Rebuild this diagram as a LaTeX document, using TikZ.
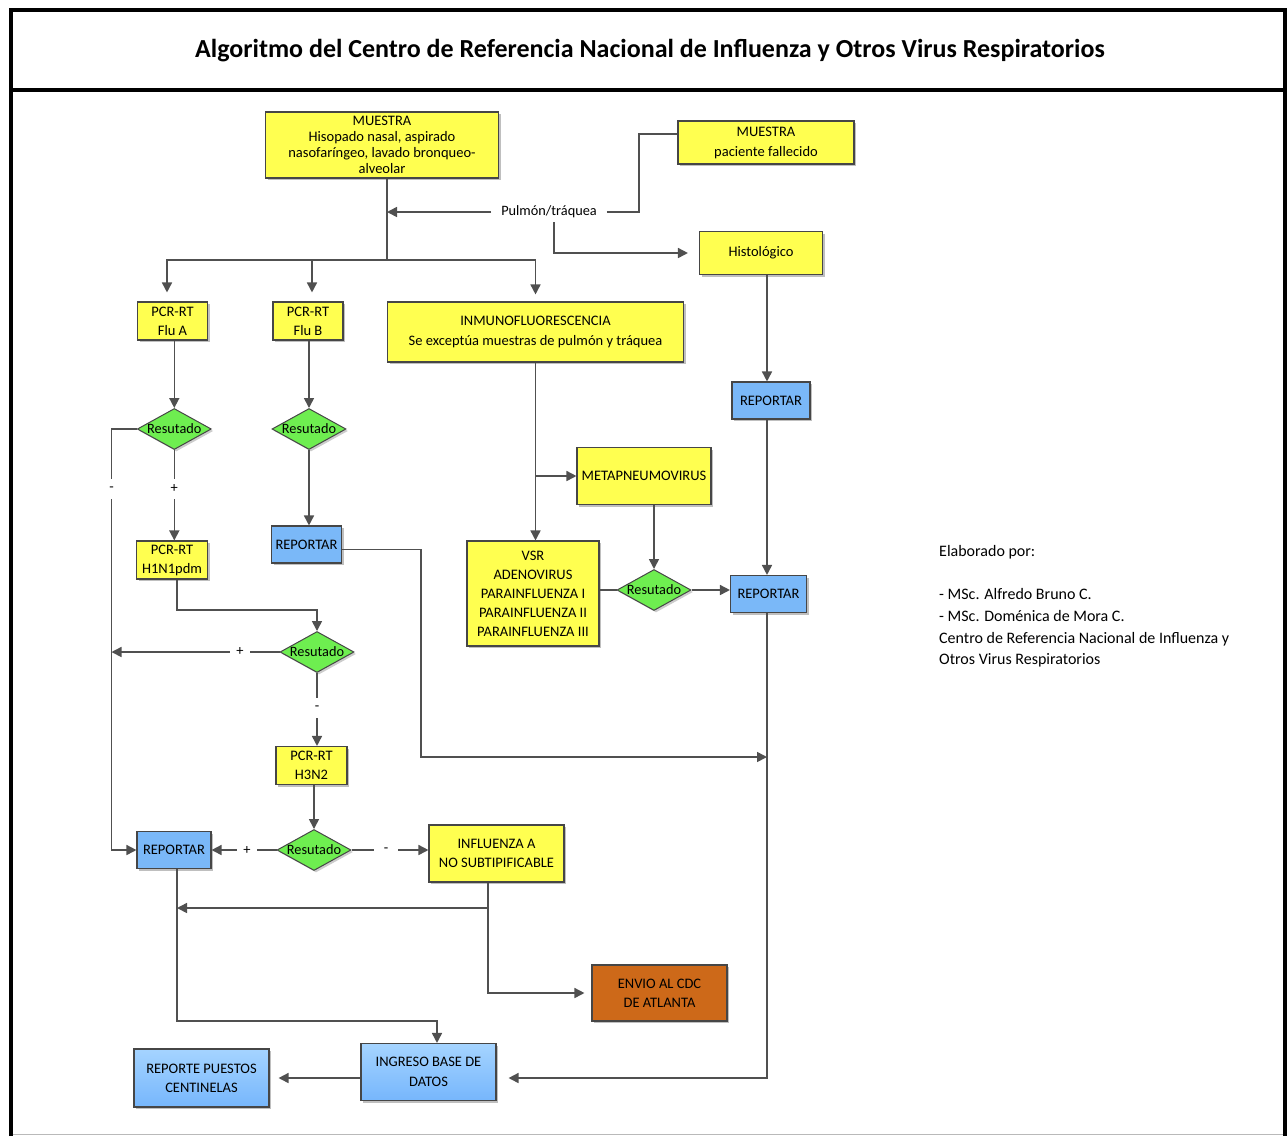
\documentclass[tikz,border=0pt]{standalone}
\usepackage{fontspec}
\setmainfont{Carlito}
\usetikzlibrary{arrows.meta,shapes.geometric,shadows,calc}
\definecolor{ybg}{RGB}{255,255,80}
\definecolor{gbg}{RGB}{110,238,80}
\definecolor{bbg}{RGB}{122,184,248}
\definecolor{bbgtop}{RGB}{165,212,255}
\definecolor{bbgbot}{RGB}{118,182,252}
\definecolor{obg}{RGB}{205,105,25}
\definecolor{edge}{RGB}{70,70,70}
\definecolor{wirec}{RGB}{80,80,80}
\newcommand\fsz[2]{\fontsize{#1}{#2}\selectfont}

\begin{document}
\begin{tikzpicture}[x=1pt,y=-1pt,
  every node/.style={inner sep=0pt},
  card/.style={draw=edge, line width=1.1pt, align=center,
    drop shadow={shadow xshift=2pt, shadow yshift=-2pt, fill=black, opacity=0.25},
    font=\fsz{14.5}{19}},
  sz/.style 2 args={minimum width=#1pt, minimum height=#2pt},
  ybox/.style={card, fill=ybg},
  bbox/.style={card, fill=bbg},
  lbox/.style={card, top color=bbgtop, bottom color=bbgbot},
  obox/.style={card, fill=obg},
  dia/.style={shape=diamond, draw=edge, line width=1pt, fill=gbg,
    minimum width=74pt, minimum height=41pt, font=\fsz{14.3}{14},
    drop shadow={shadow xshift=2pt, shadow yshift=-2pt, fill=black, opacity=0.2}},
  wire/.style={draw=wirec, line width=1.6pt},
  arr/.style={wire, -{Triangle[length=10pt,width=10pt]}},
  pm/.style={fill=white, font=\fsz{14.5}{14}, minimum size=20pt},
  frame/.style={draw=black, line width=4pt, line join=miter}
]
\useasboundingbox (0,0) rectangle (1287,1136);

% page frame and title band
\draw[frame] (10.5,1136) -- (10.5,10) -- (1285,10) -- (1285,1136);
\draw[frame] (10.5,90) -- (1285,90);
\draw[draw=gray!55, line width=1pt] (12.5,1134.5) -- (1283,1134.5);
\node[font=\bfseries\fsz{26}{28}] (title) at (650,51)
  {Algoritmo del Centro de Referencia Nacional de Influenza y Otros Virus Respiratorios};

% samples
\node[ybox, sz={233}{66}, font=\fsz{14.5}{16}] (m1) at (382,145)
  {MUESTRA\\Hisopado nasal, aspirado\\nasofaríngeo, lavado bronqueo-\\alveolar};
\node[ybox, sz={176}{43}, font=\fsz{14.5}{20}] (m2) at (766,142.5)
  {MUESTRA\\paciente fallecido};
\node[font=\fsz{14.3}{14}, inner xsep=10pt, inner ysep=4pt] (pul) at (549,212) {Pulmón/tráquea};
\node[ybox, sz={123}{43}] (hist) at (761,253) {Histológico};

% first-level tests
\node[ybox, sz={70}{38}] (flua) at (172.5,321) {PCR-RT\\Flu A};
\node[ybox, sz={70}{38}] (flub) at (308,321) {PCR-RT\\Flu B};
\node[ybox, sz={296}{60}, font=\fsz{14.5}{20}] (inmuno) at (535.5,332)
  {INMUNOFLUORESCENCIA\\Se exceptúa muestras de pulmón y tráquea};
\node[bbox, sz={78}{37}] (rep1) at (771,400.5) {REPORTAR};

\node[dia] (dA) at (174.3,429) {\makebox[0pt]{Resutado}};
\node[dia] (dB) at (309,429) {\makebox[0pt]{Resutado}};

\node[ybox, sz={134}{57}] (meta) at (644,476) {METAPNEUMOVIRUS};
\node[bbox, sz={70}{37}] (rep2) at (306.5,544.5) {REPORTAR};
\node[ybox, sz={132}{105}] (vsr) at (533,593.5)
  {VSR\\ADENOVIRUS\\PARAINFLUENZA I\\PARAINFLUENZA II\\PARAINFLUENZA III};
\node[dia] (dV) at (654,590) {\makebox[0pt]{Resutado}};
\node[bbox, sz={76}{37}] (rep3) at (768.5,594) {REPORTAR};

% influenza A subtyping
\node[ybox, sz={71}{38}] (h1) at (172,560) {PCR-RT\\H1N1pdm};
\node[dia] (dH) at (317,652) {\makebox[0pt]{Resutado}};
\node[ybox, sz={71}{38}] (h3) at (311.5,765.5) {PCR-RT\\H3N2};
\node[dia] (d3) at (314,850) {\makebox[0pt]{Resutado}};
\node[bbox, sz={74}{37}] (rep4) at (174,850) {REPORTAR};
\node[ybox, sz={135}{57}] (infl) at (496.5,853.5) {INFLUENZA A\\NO SUBTIPIFICABLE};
\node[obox, sz={135}{56}] (envio) at (659.5,993) {ENVIO AL CDC\\DE ATLANTA};

% data entry
\node[lbox, sz={135}{57}, font=\fsz{14.5}{20}] (ingreso) at (428.5,1072) {INGRESO BASE DE\\DATOS};
\node[lbox, sz={135}{58}] (puestos) at (201.5,1078) {REPORTE PUESTOS\\CENTINELAS};

% authors
\node[anchor=north west, align=left, font=\fsz{16}{21.7}] (autores) at (939,545)
  {Elaborado por:\\[21.7pt]- MSc. Alfredo Bruno C.\\- MSc. Doménica de Mora C.\\
   Centro de Referencia Nacional de Influenza y\\Otros Virus Respiratorios};

% routing points
\coordinate (bus) at (387,260);
\coordinate (pbend) at (639,134);
\coordinate (lx) at (111.5,0);
\coordinate (rx) at (177,0);
\coordinate (rcol) at (767,0);
\coordinate (j2) at (421,757);
\coordinate (hbend) at (317,610);
\coordinate (ib) at (488,908);
\coordinate (gb) at (437,1021);

% connectors from the samples
\draw[wire] ([xshift=5pt]m1.south) -- (bus);
\draw[arr, shorten >=9pt] (bus) -| ([xshift=-5.5pt]flua.north);
\draw[arr, shorten >=9pt] (bus) -| ([xshift=4pt]flub.north);
\draw[arr, shorten >=7pt] (bus) -| (inmuno.north);
\draw[arr] (pul.west) -- (pul.west -| bus);
\draw[wire] (pul.east) -| (pbend) -- (pbend -| m2.west);
\draw[arr, shorten >=11pt] ([xshift=5pt]pul.south) |- (hist.west);
\draw[arr] (hist.south -| rcol) -- (rep1.north -| rcol);
\draw[arr] (rep1.south -| rcol) -- (rep3.north -| rcol);
\draw[arr, shorten >=12pt] (rep3.south -| rcol) |- ([yshift=-6pt]ingreso.east);

% Flu A / Flu B branches
\draw[arr] (flua.south -| dA.north) -- (dA.north);
\draw[arr] (flub.south -| dB.north) -- (dB.north);
\draw[arr] (dB.south) -- (dB.south |- rep2.north);
\draw[arr] ([yshift=-5pt]rep2.east) -| (j2) -- (j2 -| rcol);
\draw[arr] (dA.west) -- (dA.west -| lx) -- (lx |- rep4.west) -- (rep4.west);
\draw[arr] (dA.south) -- (dA.south |- h1.north);
\draw[arr] ([xshift=5pt]h1.south) |- (hbend) -- (dH.north);
\draw[arr] (dH.west) -- (dH.west -| lx);
\draw[arr] (dH.south) -- (dH.south |- h3.north);
\draw[arr] (h3.south -| d3.north) -- (d3.north);
\draw[arr] (d3.west) -- (rep4.east);
\draw[arr] (d3.east) -- (d3.east -| infl.west);
\draw[wire] (infl.south -| ib) -- (ib);
\draw[arr] (ib) -- (ib -| rx);
\draw[arr, shorten >=7pt] (ib) |- (envio.west);
\draw[arr] (rep4.south -| rx) |- (gb) -- (gb |- ingreso.north);
\draw[arr, shorten >=9pt] (ingreso.west |- puestos.east) -- (puestos.east);

% immunofluorescence branch
\draw[arr] (inmuno.south) -- (inmuno.south |- vsr.north);
\draw[arr] (inmuno.south |- meta.west) -- (meta.west);
\draw[arr] (meta.south -| dV.north) -- (dV.north);
\draw[wire] (vsr.east |- dV.west) -- (dV.west);
\draw[arr] (dV.east) -- (dV.east -| rep3.west);

% result signs on the connectors
\node[pm] (sA1) at (111.5,489) {-};
\node[pm] (sA2) at (174.3,489) {+};
\node[pm] (sH1) at (240,652) {+};
\node[pm] (sH2) at (317,708) {-};
\node[pm] (s31) at (247,850) {+};
\node[pm, minimum width=24pt] (s32) at (386,850) {-};
\end{tikzpicture}
\end{document}
